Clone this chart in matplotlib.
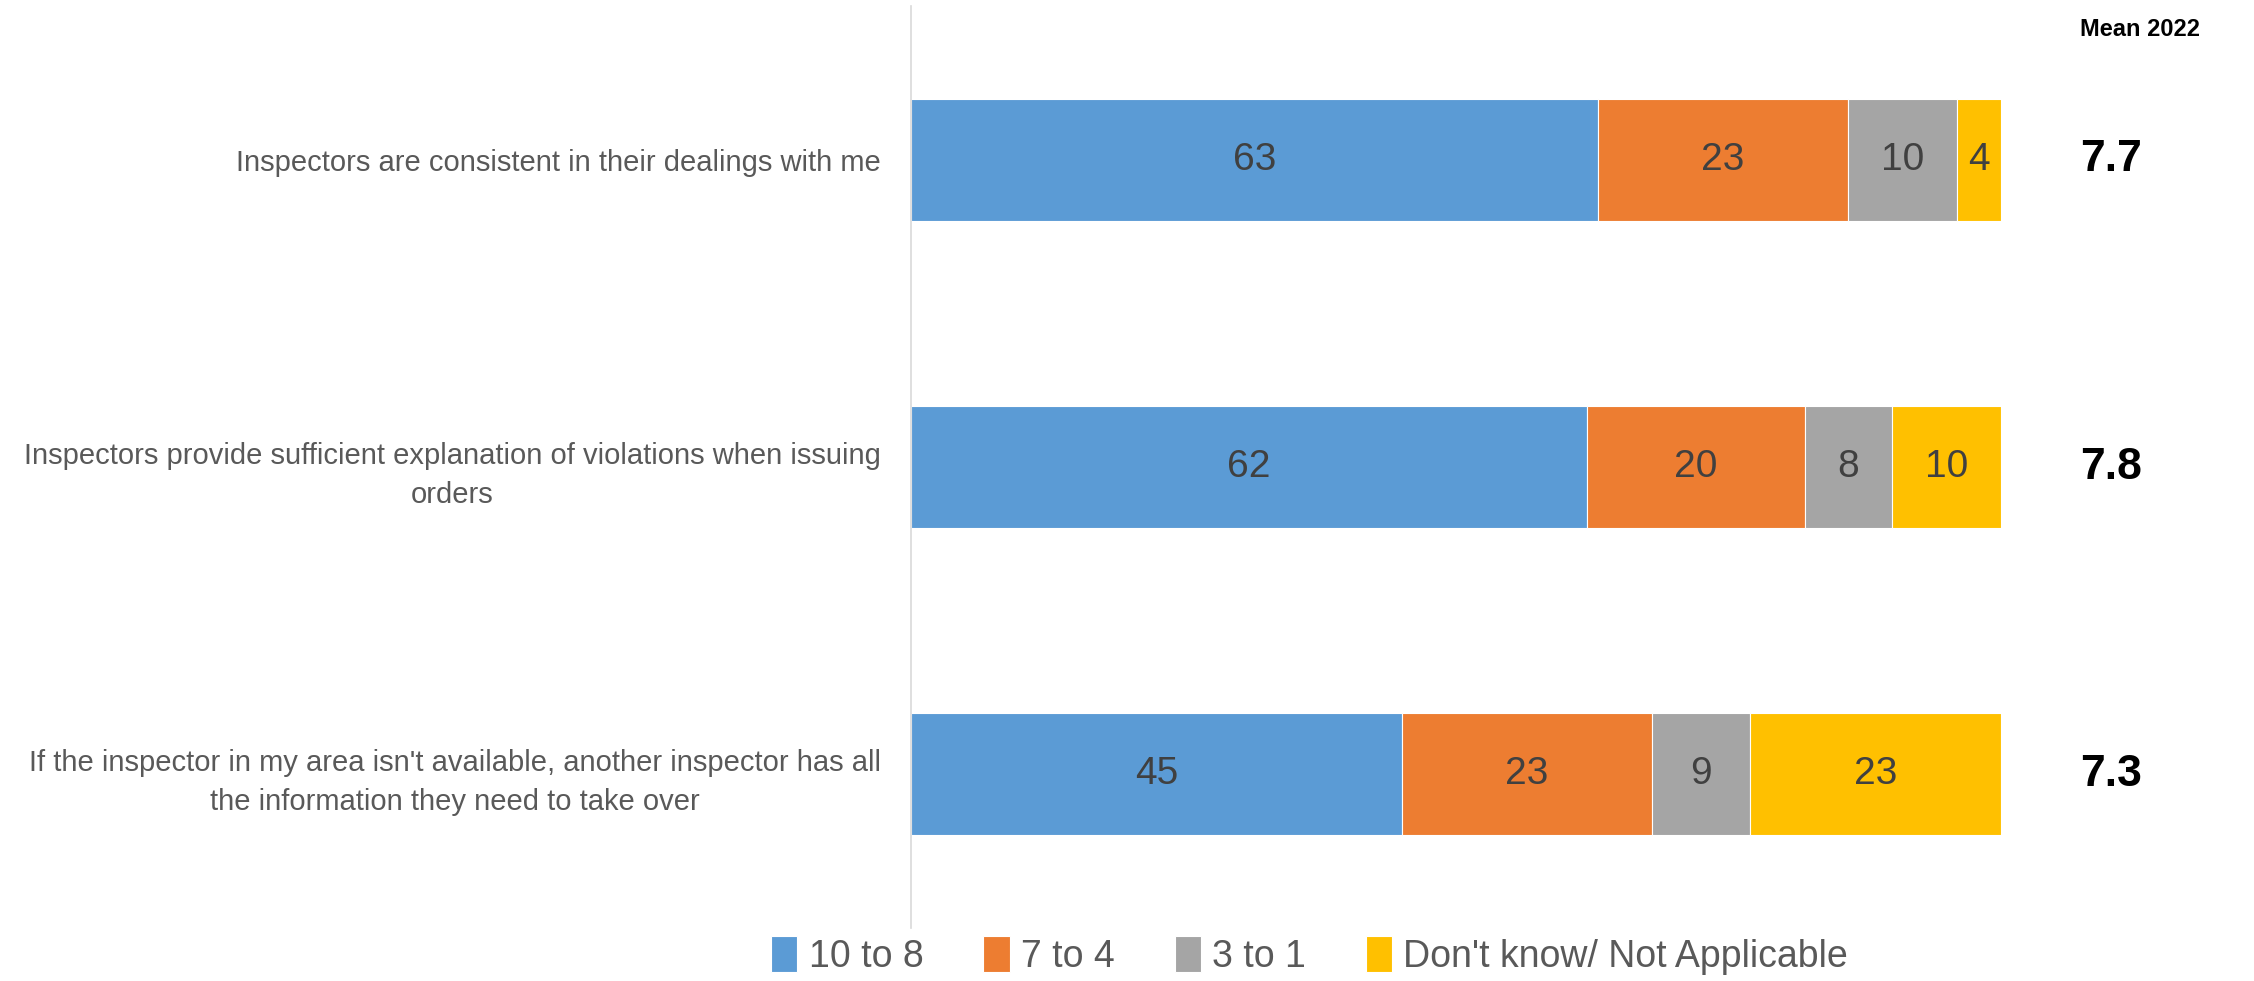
import matplotlib.pyplot as plt
import numpy as np

plt.rcParams['font.family'] = ['Liberation Sans Narrow', 'Liberation Sans', 'DejaVu Sans']

# data
statements = ["Inspectors are consistent in their dealings with me",
              "Inspectors provide sufficient explanation of violations when issuing\norders",
              "If the inspector in my area isn't available, another inspector has all\nthe information they need to take over"]
series = ["10 to 8", "7 to 4", "3 to 1", "Don't know/ Not Applicable"]
high = [63, 62, 45]
mid = [23, 20, 23]
low = [10, 8, 9]
dont_know = [4, 10, 23]
means = [7.7, 7.8, 7.3]
colors = ['#5B9BD5', '#ED7D31', '#A5A5A5', '#FFC000']

fig = plt.figure(figsize=(22.54, 9.81), dpi=100)
ax = fig.add_axes([0.4042, 0.0545, 0.8878 - 0.4042, 0.9934 - 0.0545])

y = np.arange(len(statements))
left = np.zeros(len(statements))
for vals, name, c in zip([high, mid, low, dont_know], series, colors):
    bars = ax.barh(y, vals, left=left, height=0.4, color=c, label=name,
                   edgecolor='white', linewidth=0.8)
    ax.bar_label(bars, labels=[str(v) for v in vals], label_type='center',
                 fontsize=28, color='#404040')
    left += np.array(vals)

ax.set_xlim(0, 100)
ax.set_ylim(2.5, -0.5)
ax.set_yticks(y)
ax.set_yticklabels(statements, fontsize=21, color='#595959',
                   multialignment='center', linespacing=1.5)
ax.tick_params(axis='y', length=0, pad=22)
ax.set_xticks([])
for s in ['top', 'right', 'bottom']:
    ax.spines[s].set_visible(False)
ax.spines['left'].set_color('#D9D9D9')
ax.spines['left'].set_linewidth(1.2)

# mean column
fig.text(2080 / 2254, 1 - 29 / 981, "Mean 2022", fontsize=17, fontweight='bold',
         ha='left', va='center')
for i, m in enumerate(means):
    ax.annotate(f"{m}", xy=(1, y[i]), xycoords=('axes fraction', 'data'),
                xytext=(79, 0), textcoords='offset pixels', fontsize=32,
                fontweight='bold', ha='left', va='center')

fig.legend(loc='center', bbox_to_anchor=(0.581, 0.026), ncol=4, frameon=False,
           fontsize=27, handlelength=0.7, handleheight=1.1, handletextpad=0.3,
           columnspacing=1.6, labelcolor='#595959')

fig.savefig('out.png', dpi=100)
